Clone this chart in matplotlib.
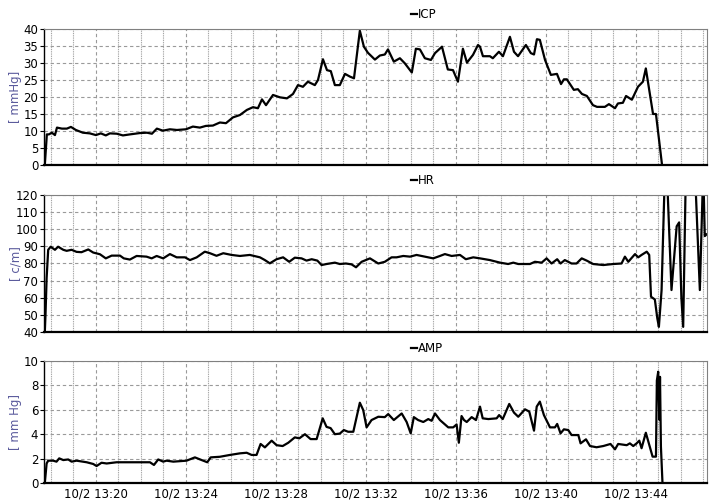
import numpy as np
import matplotlib
matplotlib.use("Agg")
import matplotlib.pyplot as plt
from matplotlib.ticker import MultipleLocator, FixedLocator

plt.rcParams['font.family'] = ['Liberation Sans Narrow', 'DejaVu Sans']

# time axis: minutes after 13:00 on 10/2
icp_t = [17.73, 17.78, 17.82, 17.91, 18.04, 18.18, 18.27, 18.49, 18.71, 18.89, 19.11, 19.42,
         19.73, 20.00, 20.22, 20.44, 20.62, 20.93, 21.20, 21.51, 21.96, 22.27, 22.49, 22.71,
         22.98, 23.29, 23.60, 24.00, 24.31, 24.62, 24.89, 25.20, 25.51, 25.78, 26.09, 26.40,
         26.71, 26.98, 27.20, 27.38, 27.56, 27.87, 28.18, 28.49, 28.76, 28.98, 29.20, 29.42,
         29.73, 29.87, 30.09, 30.27, 30.44, 30.62, 30.84, 31.07, 31.29, 31.47, 31.73, 31.91,
         32.09, 32.40, 32.62, 32.84, 32.98, 33.24, 33.51, 33.73, 34.04, 34.22, 34.40, 34.62,
         34.89, 35.07, 35.38, 35.64, 35.87, 36.09, 36.31, 36.49, 36.76, 36.98, 37.07, 37.20,
         37.51, 37.64, 37.91, 38.09, 38.40, 38.58, 38.76, 39.11, 39.33, 39.47, 39.60, 39.73,
         39.96, 40.22, 40.49, 40.67, 40.80, 40.93, 41.24, 41.42, 41.60, 41.82, 42.09, 42.27,
         42.62, 42.80, 43.07, 43.20, 43.42, 43.56, 43.82, 44.09, 44.31, 44.44, 44.76, 44.89,
         45.16]
icp = [0, 5, 9, 9, 9.5, 8.8, 11, 10.7, 10.7, 11.2, 10.3, 9.5,
       9.3, 8.8, 9.3, 8.7, 9.3, 9.2, 8.7, 9, 9.4, 9.5, 9.2, 10.7,
       10.1, 10.5, 10.3, 10.5, 11.3, 11, 11.5, 11.6, 12.5, 12.3, 14, 14.7,
       16.2, 17, 16.7, 19.3, 17.6, 20.6, 19.9, 19.6, 20.9, 23.5, 23, 24.5,
       23.5, 25, 31.1, 27.9, 27.6, 23.5, 23.5, 26.8, 26, 25.5, 39.5, 34.8,
       33, 31, 32.2, 32.5, 34, 30.4, 31.4, 29.9, 27.2, 34.2, 34, 31.4,
       30.9, 32.9, 34.8, 28.1, 27.9, 24.5, 34.2, 30.1, 32.4, 35.3, 34.8, 32,
       32, 31.4, 33.3, 32, 37.7, 33.3, 32, 35.3, 32.9, 32.5, 37, 36.8,
       30.9, 26.5, 26.8, 23.8, 25.2, 25.2, 22.1, 22.3, 20.9, 20.3, 17.6, 17.1,
       17.1, 17.9, 16.7, 18.1, 18.3, 20.3, 19.2, 23, 24.5, 28.4, 15, 15,
       0]

hr_t = [17.73, 17.76, 17.81, 17.88, 17.99, 18.18, 18.32, 18.55, 18.70, 18.92, 19.14, 19.36,
        19.66, 19.88, 20.18, 20.44, 20.70, 21.07, 21.24, 21.51, 21.81, 22.25, 22.48, 22.70,
        22.99, 23.29, 23.59, 23.96, 24.18, 24.48, 24.84, 25.07, 25.36, 25.66, 26.03, 26.40,
        26.84, 27.29, 27.51, 27.73, 28.03, 28.32, 28.59, 28.84, 29.14, 29.36, 29.59, 29.84,
        30.03, 30.25, 30.62, 30.84, 31.11, 31.36, 31.56, 31.81, 32.18, 32.55, 32.84, 33.14,
        33.36, 33.66, 33.96, 34.25, 34.62, 34.99, 35.29, 35.51, 35.81, 36.18, 36.44, 36.77,
        37.07, 37.51, 37.96, 38.32, 38.55, 38.77, 39.29, 39.51, 39.81, 40.03, 40.25, 40.50,
        40.65, 40.84, 41.14, 41.36, 41.59, 41.81, 42.10, 42.55, 42.99, 43.36, 43.51, 43.66,
        43.96, 44.10, 44.25, 44.48, 44.59, 44.67, 44.84, 44.95, 45.02, 45.14, 45.21, 45.29,
        45.37, 45.58, 45.81, 45.92, 46.02, 46.10, 46.22, 46.62, 46.84, 46.99, 47.06, 47.14]
hr = [40, 50, 71.5, 88, 89.8, 88, 89.8, 88, 87.4, 88, 86.8, 86.6,
      88.2, 86.4, 85.4, 83, 84.6, 84.6, 83, 82.3, 84.4, 84, 83, 84.4,
      83, 85.5, 83.6, 83.6, 82, 83.6, 86.9, 86, 84.5, 86, 85, 84.4,
      85, 83.6, 82, 80.1, 82.5, 83.6, 81, 83.4, 83, 81.7, 82.5, 81.7,
      79.1, 79.7, 80.5, 79.7, 80, 79.5, 77.8, 81, 83, 80, 81, 83.6,
      83.6, 84.4, 84, 85, 84, 83, 84.4, 85.5, 84.4, 85, 82.5, 83.6,
      83, 82, 80.5, 79.7, 80.5, 79.7, 79.7, 81, 80.5, 83, 80, 82.5,
      80, 82, 80, 80, 83, 81.7, 79.7, 79.1, 79.7, 80, 84, 81,
      85.5, 83.6, 85, 86.9, 85, 60.6, 59, 48, 43, 64.5, 97.6, 135,
      135, 64.5, 101.7, 104, 60, 43, 135, 135, 64.5, 135, 96, 97]

amp_t = [17.73, 17.81, 17.88, 18.10, 18.25, 18.37, 18.55, 18.77, 18.92, 19.14, 19.59, 19.88,
         20.03, 20.25, 20.48, 20.92, 21.66, 22.40, 22.58, 22.77, 22.99, 23.14, 23.44, 24.03,
         24.40, 24.70, 24.95, 25.10, 25.51, 25.96, 26.40, 26.70, 26.92, 27.14, 27.32, 27.51,
         27.81, 28.03, 28.30, 28.55, 28.84, 29.04, 29.29, 29.54, 29.81, 30.08, 30.25, 30.43,
         30.62, 30.84, 31.02, 31.21, 31.44, 31.73, 31.88, 32.03, 32.25, 32.55, 32.84, 32.99,
         33.24, 33.59, 33.81, 33.99, 34.13, 34.32, 34.55, 34.77, 34.92, 35.07, 35.29, 35.66,
         35.88, 36.03, 36.13, 36.25, 36.36, 36.48, 36.70, 36.89, 37.07, 37.19, 37.44, 37.81,
         37.92, 38.08, 38.37, 38.58, 38.77, 39.07, 39.26, 39.47, 39.59, 39.73, 39.91, 40.18,
         40.40, 40.50, 40.65, 40.80, 40.99, 41.14, 41.44, 41.54, 41.78, 41.96, 42.25, 42.55,
         42.87, 43.07, 43.21, 43.59, 43.73, 43.88, 44.03, 44.15, 44.25, 44.44, 44.74, 44.89,
         44.93, 44.99, 45.04, 45.07, 45.11, 45.18]
amp = [0, 1.6, 1.83, 1.83, 1.75, 2.02, 1.88, 1.93, 1.75, 1.83, 1.7, 1.56,
       1.39, 1.66, 1.6, 1.7, 1.7, 1.7, 1.48, 1.93, 1.75, 1.83, 1.75, 1.83,
       2.1, 1.88, 1.7, 2.1, 2.15, 2.3, 2.43, 2.48, 2.3, 2.3, 3.2, 2.92,
       3.47, 3.1, 3.03, 3.3, 3.74, 3.66, 4.0, 3.6, 3.6, 5.3, 4.6, 4.5,
       4.0, 4.05, 4.34, 4.2, 4.2, 6.58, 5.98, 4.56, 5.16, 5.43, 5.4, 5.65,
       5.16, 5.7, 5.0, 4.07, 5.4, 5.16, 5.0, 5.24, 5.1, 5.7, 5.16, 4.56,
       4.56, 4.8, 3.3, 5.49, 5.16, 5.0, 5.4, 5.16, 6.26, 5.3, 5.24, 5.3,
       5.57, 5.24, 6.48, 5.77, 5.43, 6.04, 5.85, 4.29, 6.26, 6.67, 5.57, 4.56,
       4.56, 4.84, 4.07, 4.4, 4.34, 3.93, 3.93, 3.25, 3.58, 3.03, 2.93, 3.03,
       3.2, 2.76, 3.2, 3.1, 3.25, 3.03, 3.25, 3.47, 2.85, 4.12, 2.16, 2.16,
       8.4, 9.12, 5.2, 8.7, 3.0, 0]

tick_minutes = [20, 24, 28, 32, 36, 40, 44]
tick_labels = ["10/2 13:%02d" % m for m in tick_minutes]

panels = [
    ("ICP", icp_t, icp, "[ mmHg]", (0, 40), 5),
    ("HR", hr_t, hr, "[ c/m]", (40, 120), 10),
    ("AMP", amp_t, amp, "[ mm Hg]", (0, 10), 2),
]
boxes = [[0.061, 0.670, 0.921, 0.272],
         [0.061, 0.336, 0.921, 0.274],
         [0.061, 0.034, 0.921, 0.244]]

fig = plt.figure(figsize=(7.2, 5.0), dpi=100)
label_col = "#5a5a9c"

for i, (name, t, v, unit, ylim, step) in enumerate(panels):
    ax = fig.add_axes(boxes[i])
    ax.plot(t, v, color="black", lw=1.6, label=name)
    ax.set_xlim(17.69, 47.16)
    ax.set_ylim(*ylim)
    ax.yaxis.set_major_locator(MultipleLocator(step))
    ax.xaxis.set_major_locator(FixedLocator(tick_minutes))
    ax.xaxis.set_minor_locator(MultipleLocator(1))
    ax.grid(which="major", axis="y", color="#9a9a9a", ls=(0, (3, 2.5)), lw=0.8)
    ax.grid(which="major", axis="x", color="#9a9a9a", ls=(0, (3, 2.5)), lw=0.8)
    ax.grid(which="minor", axis="x", color="#9a9a9a", ls=(0, (0.8, 0.8)), lw=0.8)
    ax.tick_params(axis="y", labelsize=8.5, length=3, width=0.8, pad=1)
    ax.tick_params(axis="x", which="both", length=0)
    if i == 2:
        ax.set_xticklabels(tick_labels, fontsize=8.5)
    else:
        ax.set_xticklabels([])
    for s in ("top", "right"):
        ax.spines[s].set_color("#808080")
        ax.spines[s].set_linewidth(0.8)
    ax.spines["left"].set_linewidth(1.0)
    ax.spines["bottom"].set_linewidth(1.6)
    ax.set_ylabel(unit, color=label_col, fontsize=8.5)
    ax.yaxis.set_label_coords(-0.033, 0.5)
    ax.legend(loc="center left", bbox_to_anchor=(0.553, 1.105), frameon=False,
              handlelength=0.5, handletextpad=0.15, fontsize=8.5,
              borderpad=0, borderaxespad=0)

fig.savefig("out.png", dpi=100)
